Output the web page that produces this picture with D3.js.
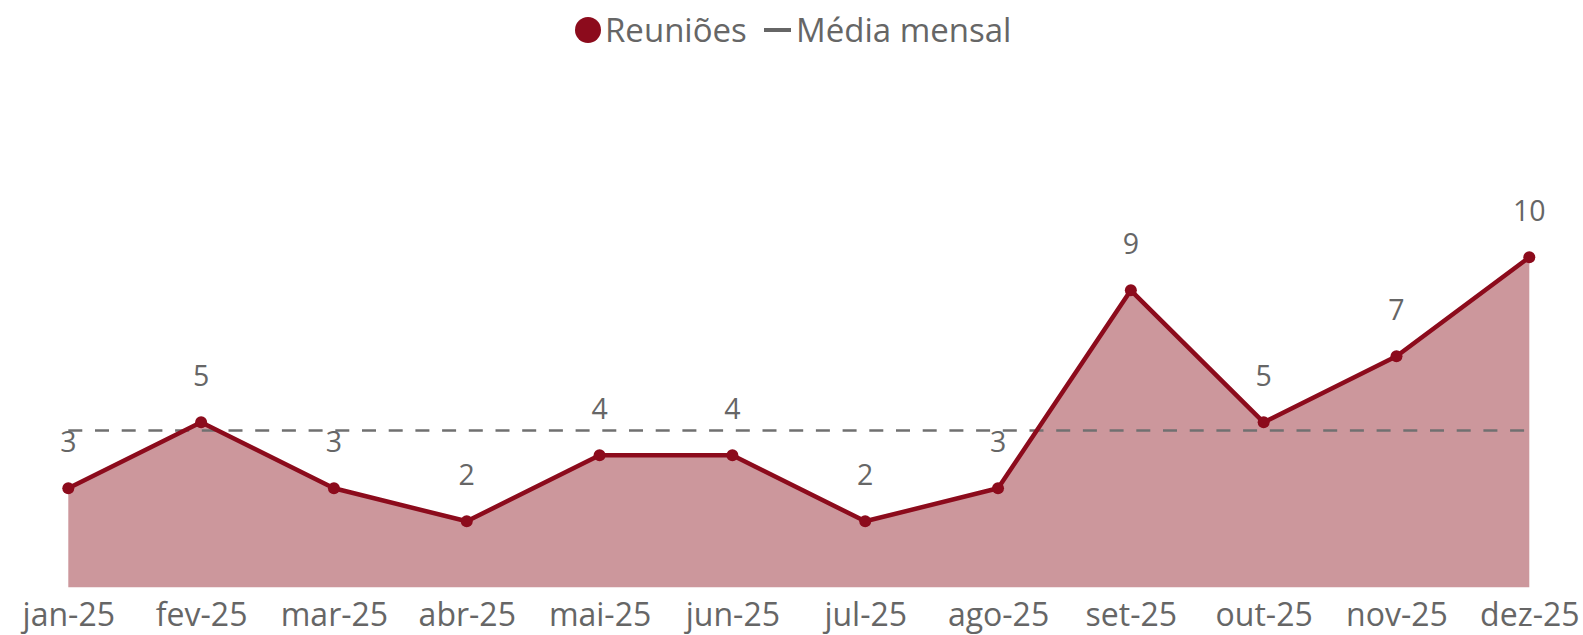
<!DOCTYPE html>
<html><head><meta charset="utf-8">
<script src="https://cdn.jsdelivr.net/npm/d3@7"></script>
<style>
html,body{margin:0;padding:0;background:#fff;}
svg{display:block;font-family:"Open Sans",sans-serif;}
</style></head>
<body><svg id="c" width="1583" height="635"></svg>
<script>
const months = ["jan-25","fev-25","mar-25","abr-25","mai-25","jun-25","jul-25","ago-25","set-25","out-25","nov-25","dez-25"];
const reunioes = [3,5,3,2,4,4,2,3,9,5,7,10];
const legendLabels = ["Reuniões","Média mensal"];

const media = d3.mean(reunioes);
const svg = d3.select("#c");
const lineColor = "#8c0b1c", areaColor = "#cc979c", textColor = "#666666", dashColor = "#707070";

const x = d3.scalePoint().domain(months).range([68.3, 1529.3]);
const y = d3.scaleLinear().domain([0, 10]).range([587.3, 257.3]);

const data = months.map((m,i)=>({m, v: reunioes[i]}));

svg.append("path").datum(data)
  .attr("fill", areaColor)
  .attr("d", d3.area().x(d=>x(d.m)).y0(y(0)).y1(d=>y(d.v)));

svg.append("line")
  .attr("x1", x(months[0])).attr("x2", x(months[months.length-1]))
  .attr("y1", y(media)).attr("y2", y(media))
  .attr("stroke", dashColor).attr("stroke-width", 2.5)
  .attr("stroke-dasharray", "14,12.7");

svg.append("path").datum(data)
  .attr("fill", "none").attr("stroke", lineColor).attr("stroke-width", 4.5)
  .attr("stroke-linejoin", "round")
  .attr("d", d3.line().x(d=>x(d.m)).y(d=>y(d.v)));

svg.selectAll("circle.pt").data(data).join("circle")
  .attr("class","pt")
  .attr("cx", d=>x(d.m)).attr("cy", d=>y(d.v)).attr("r", 6)
  .attr("fill", lineColor);

svg.selectAll("text.lbl").data(data).join("text")
  .attr("class","lbl")
  .attr("x", d=>x(d.m)).attr("y", d=>y(d.v)-36)
  .attr("text-anchor","middle").attr("font-size", 28.5).attr("fill", textColor)
  .text(d=>d.v);

const xAxis = svg.append("g").attr("transform", `translate(0,${y(0)})`)
  .call(d3.axisBottom(x).tickSize(0).tickPadding(0));
xAxis.select(".domain").remove();
xAxis.selectAll("text")
  .attr("y", 39).attr("dy", null)
  .attr("font-size", 32).attr("fill", textColor)
  .attr("font-family", "Open Sans, sans-serif");

// legend
const lg = svg.append("g");
lg.append("circle").attr("cx", 588).attr("cy", 30).attr("r", 13).attr("fill", lineColor);
lg.append("text").attr("x", 605).attr("y", 42).attr("font-size", 33).attr("fill", textColor).text(legendLabels[0]);
lg.append("line").attr("x1", 764).attr("x2", 791).attr("y1", 30).attr("y2", 30)
  .attr("stroke", "#666").attr("stroke-width", 4);
lg.append("text").attr("x", 796).attr("y", 42).attr("font-size", 33).attr("fill", textColor).text(legendLabels[1]);
</script>
</body></html>
